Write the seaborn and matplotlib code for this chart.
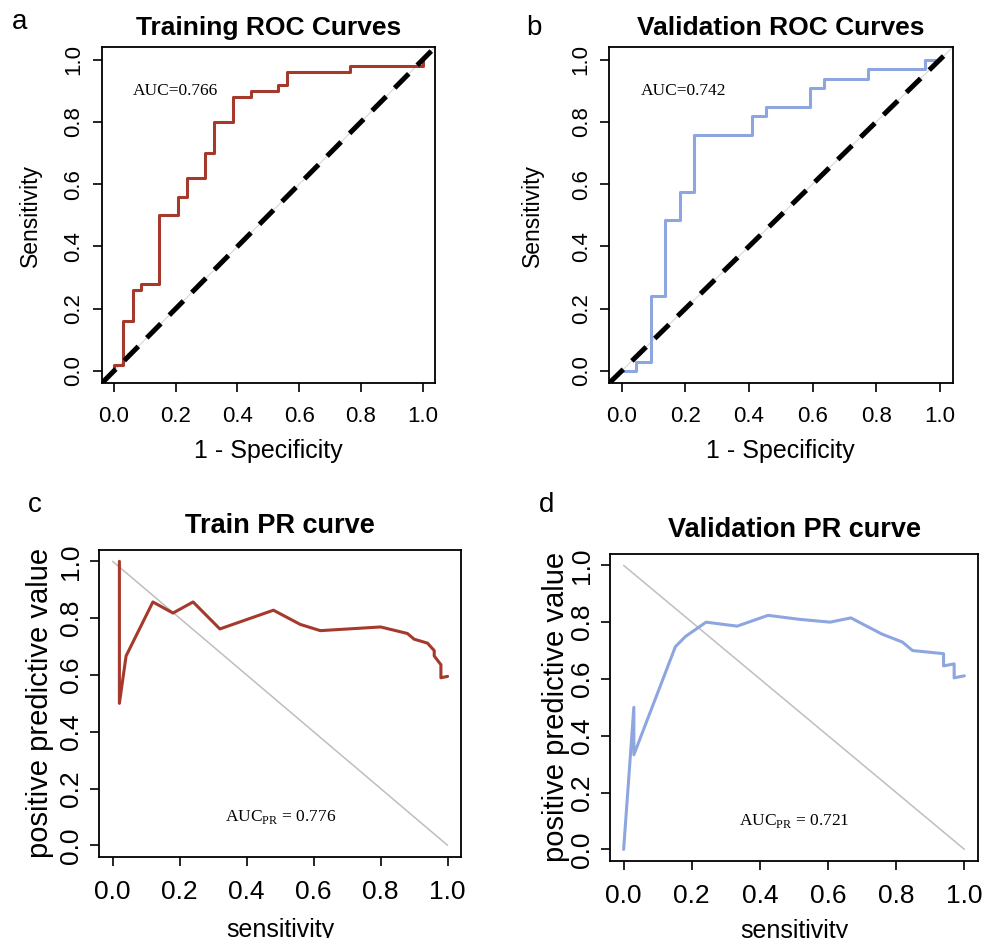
import numpy as np
import pandas as pd
import matplotlib
matplotlib.use("Agg")
import matplotlib.pyplot as plt
import seaborn as sns

sns.set_theme(style="ticks")
plt.rcParams['font.family'] = ['Liberation Sans', 'DejaVu Sans']
plt.rcParams['mathtext.fontset'] = 'custom'
plt.rcParams['mathtext.rm'] = 'Liberation Serif'
for key in ['text.color', 'axes.labelcolor', 'xtick.color', 'ytick.color']:
    plt.rcParams[key] = 'black'

# ROC data (1 - specificity, sensitivity)
train_fpr = [0, 0, 0.03, 0.03, 0.06, 0.06, 0.088, 0.088, 0.147, 0.147, 0.206, 0.206,
             0.236, 0.236, 0.295, 0.295, 0.325, 0.325, 0.384, 0.384, 0.444, 0.444,
             0.531, 0.531, 0.56, 0.56, 0.766, 0.766, 1.0, 1.0]
train_tpr = [0, 0.02, 0.02, 0.16, 0.16, 0.26, 0.26, 0.28, 0.28, 0.50, 0.50, 0.56,
             0.56, 0.62, 0.62, 0.70, 0.70, 0.80, 0.80, 0.88, 0.88, 0.90,
             0.90, 0.92, 0.92, 0.96, 0.96, 0.98, 0.98, 1.0]
val_fpr = [0, 0.045, 0.045, 0.091, 0.091, 0.136, 0.136, 0.182, 0.182, 0.227, 0.227,
           0.409, 0.409, 0.455, 0.455, 0.591, 0.591, 0.636, 0.636, 0.773, 0.773,
           0.955, 0.955, 1.0]
val_tpr = [0, 0, 0.03, 0.03, 0.242, 0.242, 0.485, 0.485, 0.576, 0.576, 0.758, 0.758,
           0.818, 0.818, 0.848, 0.848, 0.909, 0.909, 0.939, 0.939, 0.97, 0.97,
           1.0, 1.0]

# PR data (sensitivity, positive predictive value)
train_rec = [0.02, 0.02, 0.04, 0.12, 0.18, 0.24, 0.32, 0.48, 0.56, 0.62, 0.80,
             0.88, 0.90, 0.94, 0.96, 0.96, 0.98, 0.98, 1.0]
train_ppv = [1.0, 0.50, 0.667, 0.857, 0.818, 0.857, 0.762, 0.828, 0.778, 0.756, 0.769,
             0.746, 0.726, 0.712, 0.686, 0.667, 0.636, 0.59, 0.595]
val_rec = [0.0, 0.03, 0.03, 0.152, 0.182, 0.242, 0.333, 0.424, 0.515, 0.606, 0.667,
           0.758, 0.818, 0.848, 0.939, 0.939, 0.97, 0.97, 1.0]
val_ppv = [0.0, 0.50, 0.333, 0.714, 0.75, 0.80, 0.786, 0.824, 0.81, 0.80, 0.815,
           0.758, 0.73, 0.70, 0.689, 0.646, 0.653, 0.604, 0.611]

ticks = [0.0, 0.2, 0.4, 0.6, 0.8, 1.0]
tick_labels = ['0.0', '0.2', '0.4', '0.6', '0.8', '1.0']
red = '#A5392B'
blue = '#8DA6DF'
narrow = ['Liberation Sans Narrow', 'Liberation Sans']
W, H = 1002, 938

fig = plt.figure(figsize=(W / 100, H / 100), dpi=100)

def box(l, t, r, b):
    return fig.add_axes([l / W, (H - b) / H, (r - l) / W, (b - t) / H])

ax_a = box(101.7, 47.3, 435, 383.3)
ax_b = box(609, 47.3, 952.5, 383.3)
ax_c = box(99.3, 550, 461, 856.7)
ax_d = box(610, 554, 978, 860.7)

def style(ax):
    ax.set_xlim(-0.04, 1.04)
    ax.set_ylim(-0.04, 1.04)
    for s in ax.spines.values():
        s.set_color('black')
        s.set_linewidth(1.3)
    ax.tick_params(direction='out', length=6.5, width=1.2, color='black')
    ax.set_xticks(ticks)
    ax.set_yticks(ticks)

def roc_panel(ax, fpr, tpr, color, title, auc, lab_x):
    style(ax)
    ax.axline((0, 0), slope=1, color='#D8D8D8', lw=0.8, zorder=1)
    df = pd.DataFrame({'fpr': fpr, 'tpr': tpr})
    sns.lineplot(data=df, x='fpr', y='tpr', sort=False, estimator=None,
                 color=color, lw=2.2, ax=ax, zorder=2)
    ax.axline((0, 0), slope=1, color='black', lw=3.6, ls=(0, (4, 2.4)), zorder=3)
    ax.set_xticklabels(tick_labels, family=narrow, fontsize=16)
    ax.set_yticklabels(tick_labels, family=narrow, fontsize=16, rotation=90, va='center')
    ax.tick_params(axis='x', pad=10)
    ax.tick_params(axis='y', pad=6)
    ax.set_xlabel('1 - Specificity', fontsize=18)
    ax.set_ylabel('Sensitivity', fontsize=16.5)
    ax.xaxis.set_label_coords(0.5, -0.165)
    ax.yaxis.set_label_coords(lab_x, 0.5)
    ax.set_title(title, fontsize=19, fontweight='bold', pad=9)
    ax.text(0.06, 0.90, 'AUC=' + auc, family='Liberation Serif', fontsize=12.5,
            ha='left', va='center')

def pr_panel(ax, rec, ppv, color, title, auc, lab_x, xlab_y):
    style(ax)
    ax.plot([0, 1], [1, 0], color='#BEBEBE', lw=1.1, zorder=1)
    df = pd.DataFrame({'rec': rec, 'ppv': ppv})
    sns.lineplot(data=df, x='rec', y='ppv', sort=False, estimator=None,
                 color=color, lw=2.2, ax=ax, zorder=2)
    ax.set_xticklabels(tick_labels, fontsize=19)
    ax.set_yticklabels(tick_labels, fontsize=19, rotation=90, va='center')
    ax.tick_params(axis='x', pad=10)
    ax.tick_params(axis='y', pad=5)
    ax.set_xlabel('sensitivity', fontsize=18)
    ax.set_ylabel('positive predictive value', fontsize=21)
    ax.xaxis.set_label_coords(0.5, xlab_y)
    ax.yaxis.set_label_coords(lab_x, 0.5)
    ax.set_title(title, fontsize=19.5, fontweight='bold', pad=12)
    ax.text(0.5, 0.10, r'$\mathrm{AUC}_{\mathrm{PR}}$ = ' + auc, family='Liberation Serif',
            fontsize=12.5, ha='center', va='center')

roc_panel(ax_a, train_fpr, train_tpr, red, 'Training ROC Curves', '0.766', -0.18)
roc_panel(ax_b, val_fpr, val_tpr, blue, 'Validation ROC Curves', '0.742', -0.19)
pr_panel(ax_c, train_rec, train_ppv, red, 'Train PR curve', '0.776', -0.126, -0.2)
pr_panel(ax_d, val_rec, val_ppv, blue, 'Validation PR curve', '0.721', -0.11, -0.19)

for lab, x, y in [('a', 20, 22), ('b', 534, 28), ('c', 35, 505), ('d', 547, 505)]:
    fig.text(x / W, 1 - y / H, lab, fontsize=20, ha='center', va='center')

fig.savefig('out.png', dpi=100)
